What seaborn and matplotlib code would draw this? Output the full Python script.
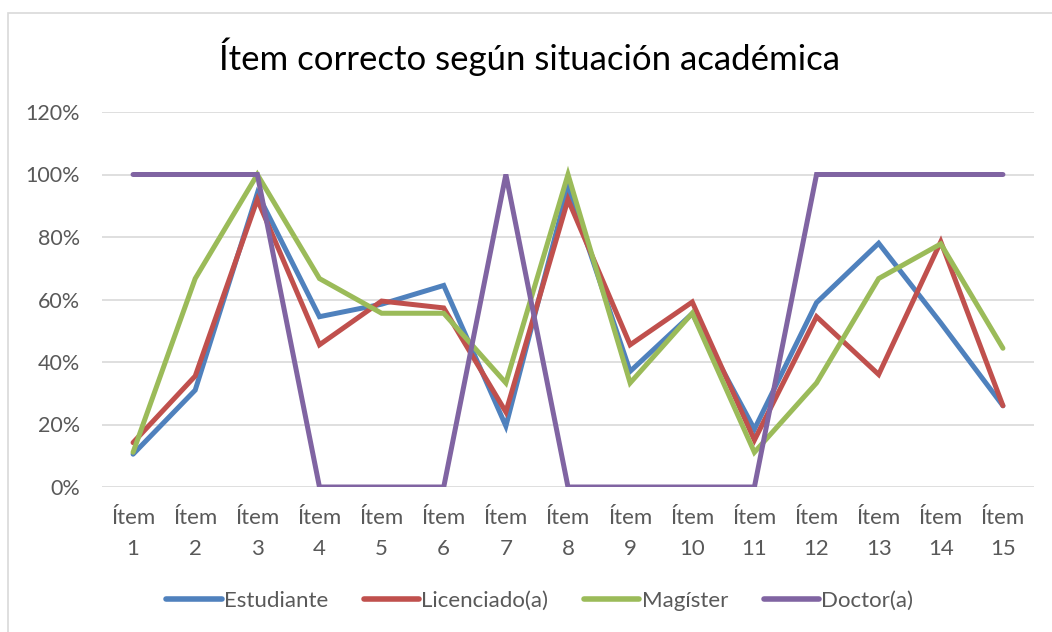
import matplotlib
matplotlib.use("Agg")
import matplotlib.pyplot as plt
import seaborn as sns
import pandas as pd
import numpy as np
from matplotlib.patches import Rectangle

items = ["Ítem\n1", "Ítem\n2", "Ítem\n3", "Ítem\n4", "Ítem\n5", "Ítem\n6", "Ítem\n7", "Ítem\n8",
         "Ítem\n9", "Ítem\n10", "Ítem\n11", "Ítem\n12", "Ítem\n13", "Ítem\n14", "Ítem\n15"]
series_names = ["Estudiante", "Licenciado(a)", "Magíster", "Doctor(a)"]
estudiante = [0.105, 0.31, 0.94, 0.545, 0.585, 0.645, 0.195, 0.96, 0.37, 0.555, 0.185, 0.59, 0.78, 0.525, 0.26]
licenciado = [0.142, 0.355, 0.92, 0.455, 0.595, 0.573, 0.24, 0.92, 0.455, 0.592, 0.15, 0.545, 0.36, 0.785, 0.26]
magister = [0.111, 0.667, 1.0, 0.667, 0.556, 0.556, 0.333, 1.0, 0.333, 0.556, 0.111, 0.333, 0.667, 0.778, 0.444]
doctor = [1.0, 1.0, 1.0, 0.0, 0.0, 0.0, 1.0, 0.0, 0.0, 0.0, 0.0, 1.0, 1.0, 1.0, 1.0]
colors = ["#4F81BD", "#C0504D", "#9BBB59", "#8064A2"]
y_ticks = [0, 0.2, 0.4, 0.6, 0.8, 1.0, 1.2]
title = "Ítem correcto según situación académica"

sns.set_theme(style="white")
plt.rcParams['font.family'] = ['Lato', 'DejaVu Sans']

rows = []
for name, vals in zip(series_names, [estudiante, licenciado, magister, doctor]):
    for i, v in enumerate(vals):
        rows.append({"idx": i, "value": v, "serie": name})
df = pd.DataFrame(rows)

fig = plt.figure(figsize=(10.52, 6.32), dpi=100)
fig.patches.append(Rectangle((8 / 1052, -0.1), 1.2, 1 - 13 / 632 + 0.1, transform=fig.transFigure,
                             fill=False, edgecolor="#D9D9D9", linewidth=1.2))
ax = fig.add_axes([102 / 1052, 1 - 487 / 632, (1034 - 102) / 1052, (487 - 112) / 632])

sns.lineplot(data=df, x="idx", y="value", hue="serie", hue_order=series_names,
             palette=colors, linewidth=3.6, ax=ax, sort=False, legend=True)
for line in ax.get_lines():
    line.set_solid_capstyle("round")
    line.set_solid_joinstyle("miter")

ax.set_xlim(-0.5, len(items) - 0.5)
ax.set_ylim(0, 1.2)
ax.set_yticks(y_ticks)
ax.set_yticklabels([f"{int(round(t * 100))}%" for t in y_ticks])
ax.set_xticks(range(len(items)))
ax.set_xticklabels(items, linespacing=1.7)
ax.tick_params(axis="both", length=0, labelcolor="#595959")
ax.tick_params(axis="y", pad=16, labelsize=15.5)
ax.tick_params(axis="x", pad=15, labelsize=16)
ax.grid(axis="y", color="#D9D9D9", linewidth=1.2)
ax.set_axisbelow(True)
for s in ax.spines.values():
    s.set_visible(False)
ax.set_xlabel("")
ax.set_ylabel("")

fig.text(0.5035, 1 - 57 / 632, title, ha="center", va="center", fontsize=25, color="#000000")

handles, labels = ax.get_legend_handles_labels()
ax.legend_.remove()
leg = fig.legend(handles, labels, loc="center", bbox_to_anchor=(0.513, 1 - 601 / 632), ncol=4,
                 frameon=False, fontsize=16, handlelength=2.5, handletextpad=0.1, columnspacing=1.6)
for t in leg.get_texts():
    t.set_color("#595959")
for h in leg.legend_handles:
    h.set_linewidth(4)
    h.set_solid_capstyle("round")

fig.savefig("out.png", dpi=100)
